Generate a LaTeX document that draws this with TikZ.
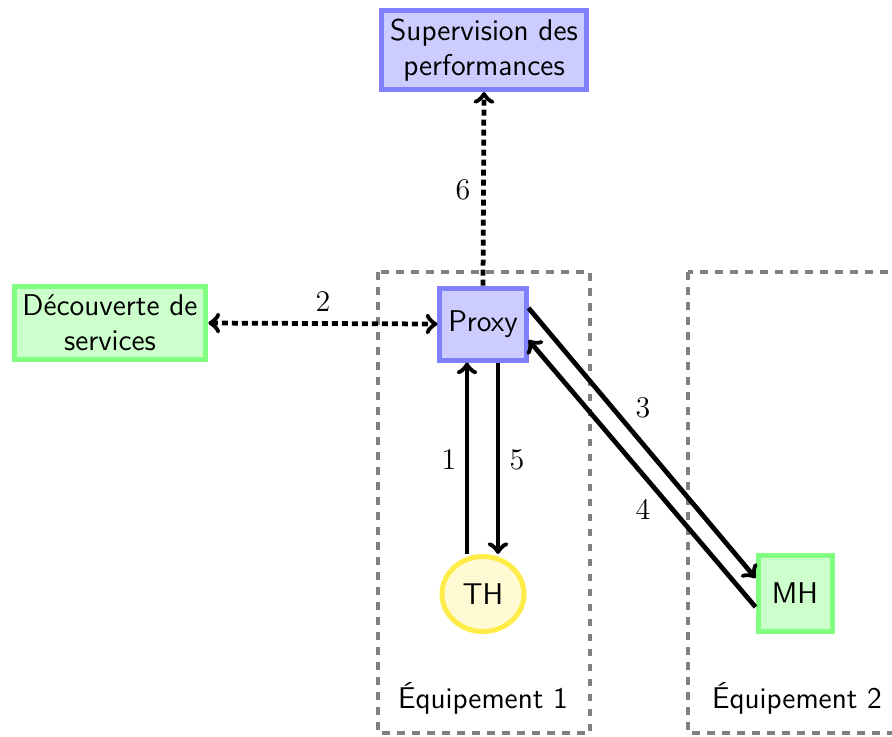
\documentclass[tikz,border=0pt]{standalone}
\usepackage{amsmath}
\usepackage{amssymb}
\usepackage{tikz}
\usetikzlibrary{shapes.geometric}

\definecolor{jaunebord}{RGB}{255,236,72}
\definecolor{jaunefond}{RGB}{255,250,212}

\begin{document}
\begin{tikzpicture}[x=0.4pt,y=0.4pt]
    \tikzstyle{every node}+=[font=\large]
    \tikzstyle{bleu}=[draw=blue!50, fill=blue!20, line width=2pt, font=\large\sffamily, align=center]
    \tikzstyle{vert}=[draw=green!50, fill=green!20, line width=2pt, font=\large\sffamily, align=center]
    \tikzstyle{jaune}=[ellipse, draw=jaunebord, fill=jaunefond, line width=2pt, font=\large\sffamily]
    \tikzstyle{lien}=[->, line width=1.9pt, black]
    \tikzstyle{pointille}=[dash pattern=on 2.4pt off 1.6pt]
    \tikzstyle{equip}=[gray, line width=1.9pt, dashed]
    \useasboundingbox (0,0) rectangle (892,-736);
    % equipements
    \draw [equip] (378,-272) rectangle (590,-733);
    \draw [equip] (688,-272) rectangle (912,-733);
    \node (equip1) at (483,-698) {\sffamily \'Equipement 1};
    \node (equip2) at (797,-698) {\sffamily \'Equipement 2};
    % noeuds
    \node [bleu] (supervision) at (484,-50) {Supervision des\\performances};
    \node [vert] (decouverte) at (110,-323) {D\'ecouverte de\\services};
    \node [bleu, minimum width=34.4pt, minimum height=28.8pt] (proxy) at (483,-324) {Proxy};
    \node [jaune, minimum width=32.8pt, minimum height=30pt, inner sep=1pt] (th) at (483,-594) {TH};
    \node [vert, minimum width=29.6pt, minimum height=30.4pt] (mh) at (795,-593) {MH};
    % liens
    \draw [lien] ([xshift=-6.4pt]th.north) -- ([xshift=-6.4pt]proxy.south);
    \node (l1) at (449,-460) {$1$};
    \draw [lien, pointille, <->] (decouverte.east) -- (proxy.west);
    \node (l2) at (323,-302) {$2$};
    \draw [lien] ([yshift=6.4pt]proxy.east) -- ([yshift=6pt]mh.west);
    \node (l3) at (643,-408) {$3$};
    \draw [lien] ([yshift=-5.6pt]mh.west) -- ([yshift=-6.4pt]proxy.east);
    \node (l4) at (643,-510) {$4$};
    \draw [lien] ([xshift=6pt]proxy.south) -- ([xshift=6pt]th.north);
    \node (l5) at (517,-460) {$5$};
    \draw [lien, pointille] (proxy.north) -- (supervision.south);
    \node (l6) at (463,-190) {$6$};
\end{tikzpicture}
\end{document}
